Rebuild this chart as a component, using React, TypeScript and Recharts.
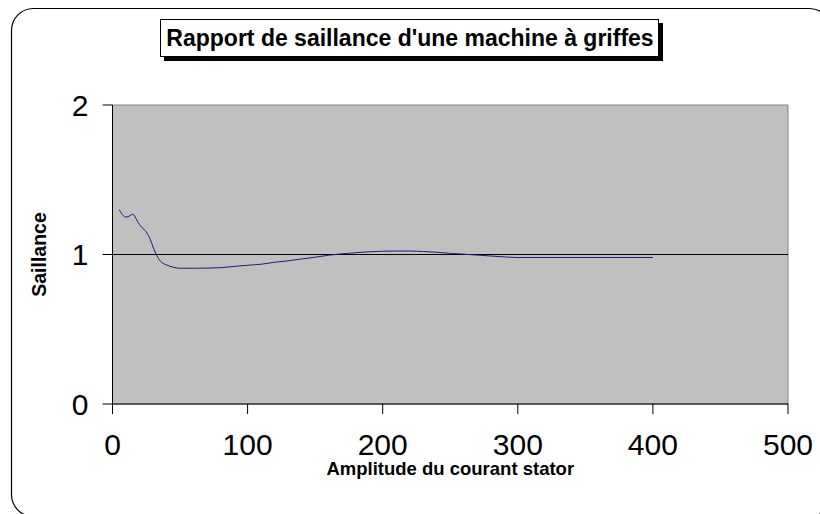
import React from "react";
import { LineChart, Line, XAxis, YAxis, ReferenceArea, ReferenceLine, Label } from "recharts";

const courant = [5, 8, 10, 13, 15, 18, 20, 23, 25, 28, 30, 33, 35, 40, 45, 50, 60, 70, 80, 90, 100, 110, 120, 130, 140, 150, 160, 170, 180, 190, 200, 210, 220, 230, 240, 250, 260, 270, 280, 290, 300, 400];
const saillance = [1.3, 1.26, 1.25, 1.26, 1.27, 1.23, 1.2, 1.17, 1.15, 1.1, 1.05, 0.99, 0.96, 0.93, 0.915, 0.908, 0.908, 0.909, 0.912, 0.92, 0.928, 0.935, 0.948, 0.958, 0.97, 0.982, 0.995, 1.005, 1.012, 1.018, 1.022, 1.023, 1.023, 1.02, 1.015, 1.008, 1.002, 0.996, 0.99, 0.984, 0.98, 0.98];
const xTicks = [0, 100, 200, 300, 400, 500];
const yTicks = [0, 1, 2];
const title = "Rapport de saillance d'une machine à griffes";
const xTitle = "Amplitude du courant stator";
const yTitle = "Saillance";

const data = courant.map((c, i) => ({ x: c, y: saillance[i] }));

const FONT = "'Liberation Sans', Arial, Helvetica, sans-serif";

export default function App() {
  return (
    <div style={{ position: "absolute", left: 0, top: 0, width: 820, height: 514, background: "#fff" }}>
      <svg width={820} height={514} style={{ position: "absolute", left: 0, top: 0 }}>
        <rect x={11.5} y={8.5} width={820} height={508} rx={22} ry={22} fill="#fff" stroke="#000" strokeWidth={1.2} />
        <rect x={164} y={23} width={499} height={38} fill="#000" />
        <rect x={160.5} y={19.5} width={498} height={37} fill="#fff" stroke="#000" strokeWidth={1} />
        <text x={410} y={46} textAnchor="middle" fontSize={23} fontWeight="bold" fontFamily={FONT} fill="#000">
          {title}
        </text>
      </svg>
      <div style={{ position: "absolute", left: 0, top: 0 }}>
        <LineChart width={820} height={514} data={data} margin={{ top: 105, right: 32, bottom: 0, left: 0 }}>
          <ReferenceArea x1={0} x2={500} y1={0} y2={2} fill="#C0C0C0" fillOpacity={1} stroke="#808080" strokeWidth={1} ifOverflow="visible" />
          <ReferenceLine y={1} stroke="#000" strokeWidth={1} />
          <XAxis
            dataKey="x"
            type="number"
            domain={[0, 500]}
            ticks={xTicks}
            tickSize={10}
            tickMargin={20}
            height={110}
            axisLine={{ stroke: "#000" }}
            tickLine={{ stroke: "#000" }}
            tick={{ fontSize: 30, fontFamily: FONT, fill: "#000" }}
            interval={0}
          >
            <Label value={xTitle} position="insideTop" offset={58} style={{ fontSize: 18.5, fontWeight: "bold", fontFamily: FONT, fill: "#000" }} />
          </XAxis>
          <YAxis
            type="number"
            domain={[0, 2]}
            ticks={yTicks}
            width={112.5}
            tickSize={10}
            tickMargin={14}
            axisLine={{ stroke: "#000" }}
            tickLine={{ stroke: "#000" }}
            tick={{ fontSize: 30, fontFamily: FONT, fill: "#000" }}
            interval={0}
          >
            <Label value={yTitle} angle={-90} position="insideLeft" offset={39} style={{ fontSize: 19.5, fontWeight: "bold", fontFamily: FONT, fill: "#000", textAnchor: "middle" }} />
          </YAxis>
          <Line type="monotone" dataKey="y" stroke="#1a1a80" strokeWidth={1} dot={false} isAnimationActive={false} />
        </LineChart>
      </div>
    </div>
  );
}
